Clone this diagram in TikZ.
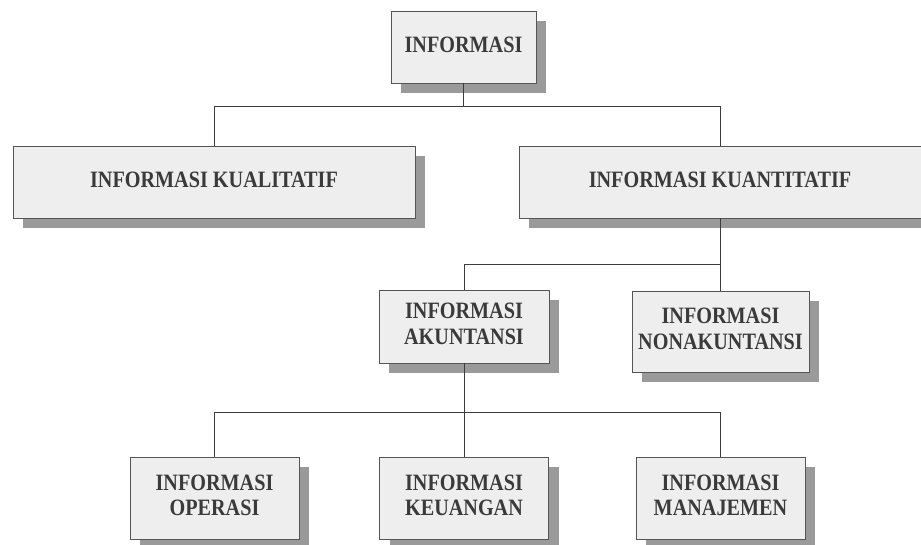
\documentclass[tikz,border=0pt]{standalone}
\usepackage{fontspec}
\usepackage{graphicx}
\setmainfont{Liberation Serif}
\usetikzlibrary{shadows}
\definecolor{boxline}{HTML}{555555}
\definecolor{boxfill}{HTML}{EEEEEE}
\definecolor{txt}{HTML}{3A3A3A}
\definecolor{shade}{HTML}{9A9A9A}
\definecolor{conn}{HTML}{3C3C3C}
\newcommand{\lbl}[1]{\scalebox{1}[1.16]{\begin{tabular}{@{}c@{}}#1\end{tabular}}}
\begin{document}
\begin{tikzpicture}[x=1pt,y=1pt,
  infobox/.style={draw=boxline, fill=boxfill, line width=0.9pt, text=txt,
    align=center, inner sep=0pt,
    font=\fontsize{20.2}{21.6}\selectfont\bfseries,
    drop shadow={shadow xshift=10pt, shadow yshift=-10pt, fill=shade, opacity=1}},
  link/.style={draw=conn, line width=0.9pt}]
\useasboundingbox (0,0) rectangle (921,-544);
\fill[white] (0,0) rectangle (921,-544);
% nodes
\node[infobox, minimum width=145, minimum height=72] (top) at (463.5,-47) {\lbl{INFORMASI}};
\node[infobox, minimum width=402, minimum height=72] (kual) at (214,-182) {\lbl{INFORMASI KUALITATIF}};
\node[infobox, minimum width=402, minimum height=72] (kuan) at (720,-182) {\lbl{INFORMASI KUANTITATIF}};
\node[infobox, minimum width=170, minimum height=73] (akun) at (464,-326.5) {\lbl{INFORMASI\\AKUNTANSI}};
\node[infobox, minimum width=177, minimum height=81] (nonak) at (720.5,-331.5) {\lbl{INFORMASI\\NONAKUNTANSI}};
\node[infobox, minimum width=169, minimum height=82] (opr) at (214.5,-498) {\lbl{INFORMASI\\OPERASI}};
\node[infobox, minimum width=169, minimum height=82] (keu) at (464,-498) {\lbl{INFORMASI\\KEUANGAN}};
\node[infobox, minimum width=169, minimum height=82] (man) at (720.5,-498) {\lbl{INFORMASI\\MANAJEMEN}};
% junctions
\coordinate (j1) at (463.5,-106);
\coordinate (j2) at (720,-264);
\coordinate (j3) at (464,-412);
% connectors
\draw[link] (top.south) -- (j1);
\draw[link] (j1) -| (kual.north);
\draw[link] (j1) -| (kuan.north);
\draw[link] (kuan.south) -- (j2);
\draw[link] (j2) -| (akun.north);
\draw[link] (j2) -| (nonak.north);
\draw[link] (akun.south) -- (j3);
\draw[link] (j3) -| (opr.north);
\draw[link] (j3) -| (keu.north);
\draw[link] (j3) -| (man.north);
\end{tikzpicture}
\end{document}
